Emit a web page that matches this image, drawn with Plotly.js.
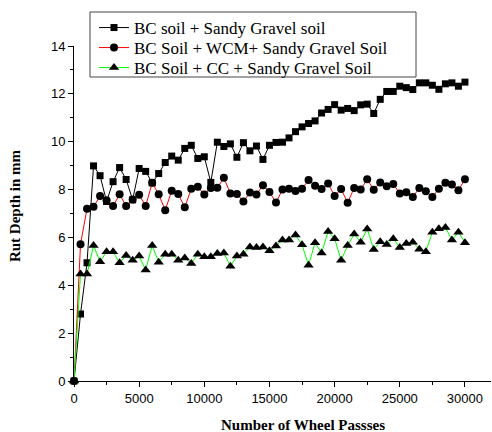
<!DOCTYPE html>
<html>
<head>
<meta charset="utf-8">
<script src="https://cdn.plot.ly/plotly-3.0.1.min.js"></script>
<style>html,body{margin:0;padding:0;background:#fff;}#chart{width:492px;height:432px;}</style>
</head>
<body>
<div id="chart"></div>
<script>
// Wheel passes (every 500 from 0 to 30000)
const passes = Array.from({length: 61}, (_, i) => i * 500);

const seriesNames = [
  "BC soil + Sandy Gravel soil",
  "BC Soil + WCM+ Sandy Gravel Soil",
  "BC Soil + CC + Sandy Gravel Soil"
];

const bcSandy = [
  0, 2.8, 4.94, 8.99, 8.58, 7.5, 8.33, 8.92, 8.42, 7.57,
  8.88, 8.76, 8.28, 8.67, 9.13, 9.4, 9.23, 9.72, 9.85, 9.3,
  9.37, 8.3, 9.98, 9.8, 9.91, 9.35, 9.96, 9.62, 9.82, 9.26,
  9.85, 9.97, 9.98, 10.16, 10.42, 10.62, 10.76, 10.87, 11.2, 11.35,
  11.55, 11.32, 11.39, 11.3, 11.54, 11.57, 11.18, 11.77, 12.1, 12.1,
  12.32, 12.26, 12.18, 12.46, 12.46, 12.36, 12.19, 12.42, 12.46, 12.32,
  12.49
];

const bcWcmSandy = [
  0, 5.72, 7.2, 7.28, 7.73, 7.55, 7.31, 7.8, 7.31, 7.59,
  7.78, 7.31, 8.28, 7.8, 7.14, 7.95, 7.81, 7.26, 8.03, 8.12,
  7.79, 8.07, 8.08, 8.49, 7.84, 7.82, 7.5, 7.88, 7.79, 8.18,
  7.9, 7.46, 8.0, 8.03, 7.94, 8.03, 8.4, 8.16, 8.02, 8.25,
  7.73, 8.02, 7.45, 8.07, 8.0, 8.43, 7.99, 8.3, 8.14, 8.23,
  7.84, 7.89, 7.69, 8.07, 7.93, 7.69, 8.03, 8.29, 8.21, 7.97,
  8.43
];

const bcCcSandy = [
  0, 4.47, 4.47, 5.66, 4.98, 5.4, 5.4, 4.94, 5.24, 5.05,
  5.22, 4.64, 5.66, 4.96, 5.3, 5.3, 5.05, 5.14, 4.91, 5.3,
  5.19, 5.19, 5.33, 5.35, 4.8, 5.22, 5.3, 5.6, 5.58, 5.6,
  5.44, 5.64, 5.89, 5.89, 6.1, 5.69, 4.84, 5.78, 5.35, 6.25,
  5.95, 5.05, 5.66, 6.14, 5.8, 6.35, 5.5, 5.82, 5.7, 5.95,
  5.58, 5.75, 5.8, 5.51, 5.4, 6.22, 6.36, 6.42, 5.89, 6.22,
  5.78
];

const xTickVals = [0, 5000, 10000, 15000, 20000, 25000, 30000];
const yTickVals = [0, 2, 4, 6, 8, 10, 12, 14];

const traces = [
  {x: passes, y: bcSandy, name: seriesNames[0], mode: 'lines+markers', legend: 'legend',
   line: {color: '#000000', width: 1},
   marker: {symbol: 'square', size: 7, color: '#000000'}, cliponaxis: false},
  {x: passes, y: bcWcmSandy, name: seriesNames[1], mode: 'lines+markers', legend: 'legend2',
   line: {color: '#ff0000', width: 1},
   marker: {symbol: 'circle', size: 8, color: '#000000'}, cliponaxis: false},
  {x: passes, y: bcCcSandy, name: seriesNames[2], mode: 'lines+markers', legend: 'legend3',
   line: {color: '#00ff00', width: 1},
   marker: {symbol: 'triangle-up', size: 9, color: '#000000'}, cliponaxis: false}
];

const tickFont = {family: '"Liberation Sans", Arial, sans-serif', size: 13, color: '#000'};
const titleFont = {family: '"Liberation Serif", "Times New Roman", serif', size: 15, color: '#000', weight: 'bold'};
const legendFont = {family: '"Liberation Serif", "Times New Roman", serif', size: 17, color: '#000'};

// plot area: left 74, width 417; top 46, height 335
function legendAt(topPx) {
  return {
    x: (94 - 74) / 417, y: (381 - topPx) / 335, xanchor: 'left', yanchor: 'top',
    bgcolor: 'rgba(0,0,0,0)', borderwidth: 0, font: legendFont,
    tracegroupgap: 0, itemwidth: 30
  };
}

const layout = {
  width: 492, height: 432,
  margin: {l: 74, r: 1, t: 46, b: 51},
  paper_bgcolor: '#fff', plot_bgcolor: '#fff',
  showlegend: true,
  legend: legendAt(10),
  legend2: legendAt(30),
  legend3: legendAt(50),
  shapes: [
    {type: 'rect', xref: 'paper', yref: 'paper',
     x0: (90 - 74) / 417, x1: (416 - 74) / 417,
     y0: (381 - 77) / 335, y1: (381 - 12) / 335,
     line: {color: '#444', width: 1}, fillcolor: 'rgba(0,0,0,0)', layer: 'above'}
  ],
  xaxis: {
    range: [0, 32000], showgrid: false, zeroline: false,
    showline: true, linecolor: '#000', linewidth: 1,
    ticks: 'outside', ticklen: 5, tickcolor: '#000', tickwidth: 1,
    tickvals: xTickVals, ticktext: xTickVals.map(String),
    tickfont: tickFont,
    minor: {dtick: 2500, tick0: 0, ticks: 'outside', ticklen: 3, tickcolor: '#000', showgrid: false}
  },
  yaxis: {
    range: [0, 14], showgrid: false, zeroline: false,
    showline: true, linecolor: '#000', linewidth: 1,
    ticks: 'outside', ticklen: 5, tickcolor: '#000', tickwidth: 1,
    tickvals: yTickVals, ticktext: yTickVals.map(String),
    tickfont: tickFont,
    minor: {dtick: 1, tick0: 0, ticks: 'outside', ticklen: 3, tickcolor: '#000', showgrid: false}
  },
  annotations: [
    {text: 'Number of Wheel Passses', xref: 'paper', yref: 'paper',
     x: 0.549, y: -0.131, xanchor: 'center', yanchor: 'middle',
     showarrow: false, font: titleFont},
    {text: 'Rut Depth in mm', xref: 'paper', yref: 'paper',
     x: -0.1415, y: 0.525, xanchor: 'center', yanchor: 'middle', textangle: -90,
     showarrow: false, font: titleFont}
  ]
};

Plotly.newPlot('chart', traces, layout, {displayModeBar: false, staticPlot: true});
</script>
</body>
</html>
